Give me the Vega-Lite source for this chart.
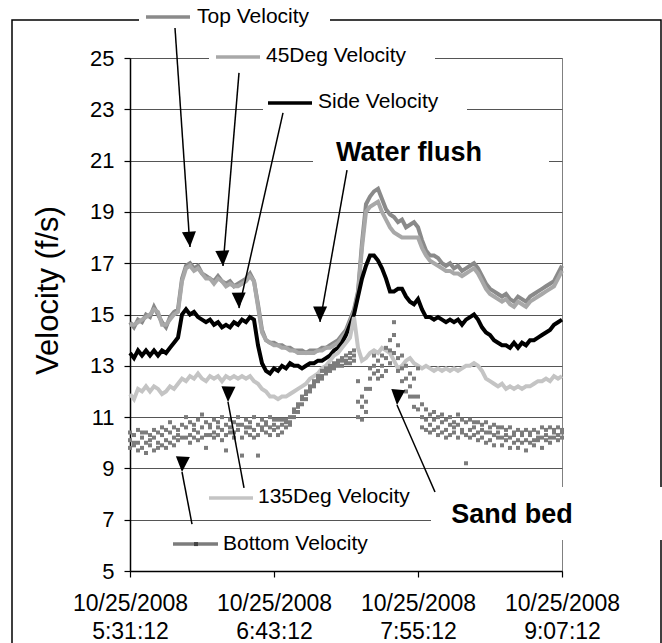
{
"$schema": "https://vega.github.io/schema/vega-lite/v6.json",
"autosize": {"type": "none"},
"width": 432,
"height": 513,
"padding": {"left": 130, "top": 58, "right": 100, "bottom": 72},
"background": "white",
"config": {"font": "Liberation Sans", "view": {"stroke": "#808080", "strokeWidth": 1}},
"datasets": {
"v": [
{"t":"2008-10-25T05:31:12","top":14.7,"d45":14.6,"side":13.5,"d135":11.9,"b1":10.1,"b2":9.8,"b3":10.4},
{"t":"2008-10-25T05:33:12","top":14.5,"d45":14.6,"side":13.3,"d135":11.7,"b1":10.3,"b2":9.9,"b3":10.0},
{"t":"2008-10-25T05:35:12","top":14.8,"d45":14.7,"side":13.6,"d135":12.1,"b1":10.0,"b2":10.5,"b3":9.7},
{"t":"2008-10-25T05:37:12","top":14.7,"d45":14.8,"side":13.4,"d135":12.0,"b1":10.2,"b2":9.8,"b3":10.4},
{"t":"2008-10-25T05:39:12","top":15.0,"d45":14.9,"side":13.6,"d135":12.2,"b1":10.4,"b2":10.0,"b3":9.6},
{"t":"2008-10-25T05:41:12","top":14.9,"d45":15.0,"side":13.4,"d135":12.0,"b1":9.9,"b2":10.3,"b3":10.1},
{"t":"2008-10-25T05:43:12","top":15.3,"d45":15.2,"side":13.6,"d135":12.2,"b1":10.2,"b2":9.7,"b3":10.5},
{"t":"2008-10-25T05:45:12","top":15.0,"d45":15.1,"side":13.4,"d135":12.1,"b1":10.0,"b2":10.4,"b3":9.8},
{"t":"2008-10-25T05:47:12","top":14.7,"d45":14.6,"side":13.6,"d135":11.9,"b1":10.3,"b2":9.9,"b3":10.6},
{"t":"2008-10-25T05:49:12","top":14.5,"d45":14.6,"side":13.5,"d135":12.0,"b1":10.1,"b2":10.5,"b3":9.8},
{"t":"2008-10-25T05:51:12","top":14.9,"d45":14.8,"side":13.7,"d135":12.2,"b1":10.4,"b2":10.0,"b3":10.8},
{"t":"2008-10-25T05:53:12","top":15.1,"d45":15.0,"side":13.9,"d135":12.1,"b1":10.2,"b2":10.6,"b3":9.9},
{"t":"2008-10-25T05:55:12","top":15.2,"d45":15.1,"side":14.1,"d135":12.3,"b1":10.5,"b2":10.1,"b3":10.3},
{"t":"2008-10-25T05:57:12","top":16.4,"d45":16.3,"side":15.0,"d135":12.5,"b1":10.2,"b2":9.3,"b3":10.7},
{"t":"2008-10-25T05:59:12","top":16.9,"d45":16.8,"side":15.2,"d135":12.4,"b1":10.6,"b2":10.2,"b3":11.0},
{"t":"2008-10-25T06:01:12","top":17.0,"d45":16.9,"side":15.0,"d135":12.6,"b1":10.3,"b2":10.8,"b3":10.0},
{"t":"2008-10-25T06:03:12","top":16.8,"d45":16.7,"side":15.1,"d135":12.5,"b1":10.7,"b2":10.2,"b3":10.5},
{"t":"2008-10-25T06:05:12","top":16.9,"d45":16.8,"side":14.9,"d135":12.7,"b1":10.4,"b2":10.9,"b3":10.1},
{"t":"2008-10-25T06:07:12","top":16.6,"d45":16.6,"side":14.8,"d135":12.5,"b1":10.6,"b2":10.2,"b3":11.1},
{"t":"2008-10-25T06:09:12","top":16.5,"d45":16.4,"side":14.7,"d135":12.4,"b1":10.3,"b2":10.8,"b3":9.8},
{"t":"2008-10-25T06:11:12","top":16.4,"d45":16.4,"side":14.8,"d135":12.6,"b1":10.7,"b2":10.3,"b3":10.6},
{"t":"2008-10-25T06:13:12","top":16.3,"d45":16.2,"side":14.6,"d135":12.5,"b1":10.4,"b2":10.9,"b3":10.2},
{"t":"2008-10-25T06:15:12","top":16.5,"d45":16.4,"side":14.7,"d135":12.6,"b1":10.8,"b2":10.3,"b3":10.6},
{"t":"2008-10-25T06:17:12","top":16.3,"d45":16.3,"side":14.5,"d135":12.4,"b1":10.5,"b2":11.0,"b3":10.1},
{"t":"2008-10-25T06:19:12","top":16.2,"d45":16.1,"side":14.6,"d135":12.6,"b1":10.7,"b2":10.3,"b3":9.7},
{"t":"2008-10-25T06:21:12","top":16.3,"d45":16.2,"side":14.5,"d135":12.5,"b1":10.4,"b2":10.9,"b3":10.6},
{"t":"2008-10-25T06:23:12","top":16.1,"d45":16.1,"side":14.7,"d135":12.6,"b1":10.8,"b2":10.4,"b3":10.2},
{"t":"2008-10-25T06:25:12","top":16.2,"d45":16.1,"side":14.6,"d135":12.5,"b1":10.5,"b2":11.0,"b3":10.7},
{"t":"2008-10-25T06:27:12","top":16.3,"d45":16.2,"side":14.8,"d135":12.6,"b1":10.7,"b2":10.2,"b3":9.5},
{"t":"2008-10-25T06:29:12","top":16.4,"d45":16.3,"side":14.7,"d135":12.5,"b1":10.4,"b2":10.9,"b3":10.6},
{"t":"2008-10-25T06:31:12","top":16.6,"d45":16.5,"side":14.9,"d135":12.6,"b1":10.8,"b2":10.3,"b3":10.6},
{"t":"2008-10-25T06:33:12","top":16.3,"d45":16.3,"side":14.8,"d135":12.4,"b1":10.5,"b2":11.0,"b3":10.2},
{"t":"2008-10-25T06:35:12","top":15.4,"d45":15.3,"side":13.8,"d135":12.3,"b1":10.7,"b2":10.3,"b3":9.5},
{"t":"2008-10-25T06:37:12","top":14.4,"d45":14.3,"side":13.1,"d135":12.1,"b1":10.5,"b2":10.9,"b3":10.6},
{"t":"2008-10-25T06:39:12","top":14.0,"d45":14.0,"side":12.8,"d135":12.0,"b1":10.8,"b2":10.4,"b3":10.7},
{"t":"2008-10-25T06:41:12","top":13.9,"d45":13.9,"side":12.7,"d135":11.8,"b1":10.6,"b2":11.0,"b3":10.3},
{"t":"2008-10-25T06:43:12","top":13.9,"d45":13.8,"side":12.9,"d135":11.8,"b1":10.9,"b2":10.5,"b3":10.7},
{"t":"2008-10-25T06:45:12","top":13.8,"d45":13.8,"side":12.8,"d135":11.7,"b1":10.6,"b2":10.9,"b3":10.3},
{"t":"2008-10-25T06:47:12","top":13.8,"d45":13.7,"side":13.0,"d135":11.8,"b1":10.9,"b2":10.4,"b3":10.7},
{"t":"2008-10-25T06:49:12","top":13.7,"d45":13.7,"side":12.9,"d135":11.8,"b1":10.6,"b2":10.9,"b3":10.8},
{"t":"2008-10-25T06:51:12","top":13.7,"d45":13.6,"side":13.1,"d135":11.9,"b1":11.0,"b2":10.7,"b3":10.8},
{"t":"2008-10-25T06:53:12","top":13.6,"d45":13.6,"side":13.0,"d135":12.0,"b1":11.2,"b2":11.0,"b3":11.3},
{"t":"2008-10-25T06:55:12","top":13.6,"d45":13.5,"side":13.0,"d135":12.1,"b1":11.4,"b2":11.2,"b3":11.5},
{"t":"2008-10-25T06:57:12","top":13.6,"d45":13.5,"side":12.9,"d135":12.2,"b1":11.7,"b2":11.5,"b3":11.8},
{"t":"2008-10-25T06:59:12","top":13.5,"d45":13.5,"side":13.0,"d135":12.3,"b1":11.9,"b2":11.7,"b3":12.0},
{"t":"2008-10-25T07:01:12","top":13.6,"d45":13.5,"side":13.1,"d135":12.5,"b1":12.1,"b2":12.0,"b3":12.2},
{"t":"2008-10-25T07:03:12","top":13.6,"d45":13.5,"side":13.1,"d135":12.6,"b1":12.3,"b2":12.2,"b3":12.4},
{"t":"2008-10-25T07:05:12","top":13.6,"d45":13.6,"side":13.2,"d135":12.7,"b1":12.5,"b2":12.4,"b3":12.6},
{"t":"2008-10-25T07:07:12","top":13.7,"d45":13.6,"side":13.2,"d135":12.9,"b1":12.6,"b2":12.5,"b3":12.8},
{"t":"2008-10-25T07:09:12","top":13.7,"d45":13.7,"side":13.3,"d135":13.0,"b1":12.8,"b2":12.7,"b3":12.9},
{"t":"2008-10-25T07:11:12","top":13.8,"d45":13.7,"side":13.4,"d135":13.2,"b1":12.9,"b2":12.8,"b3":13.0},
{"t":"2008-10-25T07:13:12","top":13.9,"d45":13.8,"side":13.6,"d135":13.4,"b1":13.0,"b2":12.9,"b3":13.1},
{"t":"2008-10-25T07:15:12","top":14.0,"d45":13.9,"side":13.7,"d135":13.5,"b1":13.1,"b2":13.0,"b3":13.2},
{"t":"2008-10-25T07:17:12","top":14.2,"d45":14.1,"side":13.9,"d135":13.7,"b1":13.2,"b2":13.0,"b3":13.3},
{"t":"2008-10-25T07:19:12","top":14.4,"d45":14.3,"side":14.2,"d135":13.9,"b1":13.2,"b2":13.1,"b3":13.4},
{"t":"2008-10-25T07:21:12","top":14.8,"d45":14.7,"side":14.6,"d135":14.1,"b1":13.3,"b2":13.1,"b3":13.5},
{"t":"2008-10-25T07:23:12","top":15.2,"d45":15.1,"side":15.0,"d135":14.9,"b1":13.4,"b2":13.2,"b3":13.6},
{"t":"2008-10-25T07:25:12","top":15.9,"d45":15.8,"side":15.7,"d135":13.7,"b1":11.6,"b2":12.4,"b3":11.0},
{"t":"2008-10-25T07:27:12","top":17.8,"d45":17.6,"side":16.4,"d135":13.2,"b1":10.9,"b2":11.4,"b3":11.8},
{"t":"2008-10-25T07:29:12","top":19.3,"d45":19.0,"side":16.9,"d135":13.3,"b1":11.6,"b2":12.1,"b3":11.2},
{"t":"2008-10-25T07:31:12","top":19.6,"d45":19.2,"side":17.3,"d135":13.5,"b1":12.5,"b2":12.9,"b3":12.1},
{"t":"2008-10-25T07:33:12","top":19.8,"d45":19.3,"side":17.3,"d135":13.6,"b1":13.0,"b2":12.7,"b3":13.4},
{"t":"2008-10-25T07:35:12","top":19.9,"d45":19.4,"side":17.1,"d135":13.5,"b1":12.8,"b2":13.2,"b3":12.5},
{"t":"2008-10-25T07:37:12","top":19.5,"d45":19.0,"side":16.8,"d135":13.7,"b1":13.0,"b2":13.4,"b3":12.6},
{"t":"2008-10-25T07:39:12","top":19.1,"d45":18.7,"side":16.4,"d135":13.6,"b1":13.3,"b2":12.8,"b3":13.7},
{"t":"2008-10-25T07:41:12","top":18.9,"d45":18.4,"side":15.9,"d135":13.5,"b1":13.6,"b2":13.1,"b3":14.0},
{"t":"2008-10-25T07:43:12","top":18.8,"d45":18.2,"side":15.9,"d135":13.2,"b1":14.2,"b2":13.5,"b3":14.7},
{"t":"2008-10-25T07:45:12","top":18.6,"d45":18.1,"side":16.0,"d135":12.9,"b1":13.3,"b2":13.8,"b3":12.8},
{"t":"2008-10-25T07:47:12","top":18.7,"d45":18.0,"side":16.0,"d135":13.0,"b1":12.9,"b2":13.4,"b3":12.4},
{"t":"2008-10-25T07:49:12","top":18.4,"d45":18.0,"side":15.7,"d135":13.2,"b1":12.5,"b2":13.0,"b3":12.0},
{"t":"2008-10-25T07:51:12","top":18.5,"d45":18.0,"side":15.5,"d135":13.3,"b1":12.2,"b2":12.7,"b3":11.8},
{"t":"2008-10-25T07:53:12","top":18.6,"d45":18.0,"side":15.4,"d135":13.1,"b1":11.8,"b2":12.5,"b3":11.4},
{"t":"2008-10-25T07:55:12","top":18.4,"d45":18.0,"side":15.6,"d135":13.0,"b1":11.3,"b2":12.9,"b3":11.8},
{"t":"2008-10-25T07:57:12","top":17.9,"d45":17.6,"side":15.2,"d135":12.9,"b1":11.0,"b2":11.5,"b3":10.6},
{"t":"2008-10-25T07:59:12","top":17.5,"d45":17.3,"side":14.9,"d135":13.0,"b1":10.9,"b2":10.5,"b3":11.3},
{"t":"2008-10-25T08:01:12","top":17.3,"d45":17.1,"side":14.9,"d135":12.9,"b1":10.7,"b2":11.1,"b3":10.4},
{"t":"2008-10-25T08:03:12","top":17.3,"d45":17.0,"side":14.8,"d135":12.8,"b1":10.9,"b2":10.5,"b3":11.2},
{"t":"2008-10-25T08:05:12","top":17.2,"d45":16.9,"side":14.9,"d135":12.9,"b1":10.6,"b2":11.0,"b3":10.3},
{"t":"2008-10-25T08:07:12","top":17.0,"d45":16.8,"side":14.8,"d135":12.8,"b1":10.8,"b2":10.4,"b3":11.1},
{"t":"2008-10-25T08:09:12","top":16.9,"d45":16.7,"side":14.7,"d135":12.9,"b1":10.5,"b2":10.9,"b3":10.2},
{"t":"2008-10-25T08:11:12","top":17.0,"d45":16.7,"side":14.8,"d135":12.8,"b1":10.7,"b2":10.3,"b3":11.0},
{"t":"2008-10-25T08:13:12","top":16.8,"d45":16.6,"side":14.7,"d135":12.9,"b1":10.4,"b2":10.8,"b3":10.6},
{"t":"2008-10-25T08:15:12","top":16.9,"d45":16.6,"side":14.8,"d135":12.8,"b1":10.7,"b2":10.2,"b3":11.1},
{"t":"2008-10-25T08:17:12","top":16.7,"d45":16.5,"side":14.6,"d135":12.9,"b1":10.4,"b2":10.9,"b3":10.5},
{"t":"2008-10-25T08:19:12","top":16.8,"d45":16.6,"side":14.8,"d135":13.0,"b1":10.8,"b2":10.3,"b3":9.2},
{"t":"2008-10-25T08:21:12","top":16.9,"d45":16.7,"side":14.9,"d135":13.0,"b1":10.5,"b2":10.9,"b3":10.2},
{"t":"2008-10-25T08:23:12","top":17.0,"d45":16.8,"side":15.0,"d135":13.1,"b1":10.8,"b2":10.3,"b3":10.6},
{"t":"2008-10-25T08:25:12","top":16.8,"d45":16.6,"side":14.8,"d135":13.0,"b1":10.4,"b2":10.8,"b3":10.1},
{"t":"2008-10-25T08:27:12","top":16.5,"d45":16.3,"side":14.5,"d135":12.8,"b1":10.7,"b2":10.2,"b3":10.5},
{"t":"2008-10-25T08:29:12","top":16.2,"d45":16.0,"side":14.3,"d135":12.5,"b1":10.4,"b2":10.8,"b3":10.0},
{"t":"2008-10-25T08:31:12","top":16.0,"d45":15.8,"side":14.2,"d135":12.4,"b1":10.6,"b2":10.1,"b3":10.4},
{"t":"2008-10-25T08:33:12","top":15.9,"d45":15.7,"side":14.0,"d135":12.3,"b1":10.3,"b2":10.7,"b3":9.9},
{"t":"2008-10-25T08:35:12","top":15.8,"d45":15.6,"side":13.9,"d135":12.2,"b1":10.6,"b2":10.2,"b3":10.4},
{"t":"2008-10-25T08:37:12","top":15.7,"d45":15.5,"side":13.8,"d135":12.3,"b1":10.2,"b2":10.6,"b3":9.9},
{"t":"2008-10-25T08:39:12","top":15.8,"d45":15.6,"side":13.8,"d135":12.1,"b1":10.5,"b2":10.1,"b3":10.3},
{"t":"2008-10-25T08:41:12","top":15.6,"d45":15.4,"side":13.7,"d135":12.2,"b1":10.2,"b2":10.6,"b3":9.8},
{"t":"2008-10-25T08:43:12","top":15.5,"d45":15.3,"side":13.9,"d135":12.1,"b1":10.4,"b2":10.0,"b3":10.3},
{"t":"2008-10-25T08:45:12","top":15.7,"d45":15.5,"side":13.7,"d135":12.2,"b1":10.1,"b2":10.5,"b3":9.8},
{"t":"2008-10-25T08:47:12","top":15.6,"d45":15.4,"side":13.9,"d135":12.1,"b1":10.4,"b2":10.0,"b3":10.3},
{"t":"2008-10-25T08:49:12","top":15.5,"d45":15.3,"side":13.8,"d135":12.2,"b1":10.1,"b2":10.5,"b3":9.7},
{"t":"2008-10-25T08:51:12","top":15.7,"d45":15.5,"side":14.0,"d135":12.2,"b1":10.4,"b2":10.0,"b3":10.3},
{"t":"2008-10-25T08:53:12","top":15.8,"d45":15.6,"side":14.0,"d135":12.3,"b1":10.1,"b2":10.5,"b3":9.9},
{"t":"2008-10-25T08:55:12","top":15.9,"d45":15.7,"side":14.1,"d135":12.4,"b1":10.4,"b2":10.1,"b3":10.2},
{"t":"2008-10-25T08:57:12","top":16.0,"d45":15.8,"side":14.2,"d135":12.4,"b1":10.2,"b2":10.6,"b3":9.8},
{"t":"2008-10-25T08:59:12","top":16.1,"d45":15.9,"side":14.3,"d135":12.5,"b1":10.5,"b2":10.1,"b3":10.3},
{"t":"2008-10-25T09:01:12","top":16.2,"d45":16.0,"side":14.4,"d135":12.4,"b1":10.2,"b2":10.6,"b3":10.0},
{"t":"2008-10-25T09:03:12","top":16.3,"d45":16.1,"side":14.6,"d135":12.6,"b1":10.5,"b2":10.2,"b3":10.4},
{"t":"2008-10-25T09:05:12","top":16.6,"d45":16.4,"side":14.7,"d135":12.5,"b1":10.3,"b2":10.6,"b3":10.1},
{"t":"2008-10-25T09:07:12","top":16.9,"d45":16.7,"side":14.8,"d135":12.6,"b1":10.4,"b2":10.2,"b3":10.5}
],
"boxes": [
{"t":"2008-10-25T05:35:42","t2":"2008-10-25T07:11:12","val":27.03,"val2":26.09},
{"t":"2008-10-25T06:10:42","t2":"2008-10-25T08:03:42","val":25.5,"val2":24.53},
{"t":"2008-10-25T06:37:42","t2":"2008-10-25T08:19:42","val":23.67,"val2":22.66},
{"t":"2008-10-25T07:02:42","t2":"2008-10-25T09:00:42","val":21.88,"val2":20.63},
{"t":"2008-10-25T08:01:42","t2":"2008-10-25T10:01:12","val":8.27,"val2":6.21}
],
"swatches": [
{"s":"top","t":"2008-10-25T05:39:12","t2":"2008-10-25T06:01:12","val":26.6},
{"s":"d45","t":"2008-10-25T06:14:12","t2":"2008-10-25T06:36:12","val":25.04},
{"s":"side","t":"2008-10-25T06:40:12","t2":"2008-10-25T07:02:12","val":23.25},
{"s":"d135","t":"2008-10-25T06:10:42","t2":"2008-10-25T06:32:42","val":7.85},
{"s":"bottom","t":"2008-10-25T05:52:42","t2":"2008-10-25T06:15:12","val":6.05}
],
"arrows": [
{"id":"top","t":"2008-10-25T05:53:42","val":26.17,"t2":"2008-10-25T06:01:12","val2":17.63},
{"id":"d45","t":"2008-10-25T06:25:42","val":24.42,"t2":"2008-10-25T06:17:42","val2":16.89},
{"id":"side","t":"2008-10-25T06:47:42","val":22.86,"t2":"2008-10-25T06:25:42","val2":15.25},
{"id":"water","t":"2008-10-25T07:19:42","val":20.63,"t2":"2008-10-25T07:06:12","val2":14.71},
{"id":"d135","t":"2008-10-25T06:28:12","val":8.24,"t2":"2008-10-25T06:20:12","val2":11.59},
{"id":"bottom","t":"2008-10-25T06:02:12","val":6.83,"t2":"2008-10-25T05:57:12","val2":8.86},
{"id":"sand","t":"2008-10-25T08:03:42","val":8.08,"t2":"2008-10-25T07:44:42","val2":11.47}
],
"labels": [
{"txt":"Top Velocity","t":"2008-10-25T06:04:42","val":26.61},
{"txt":"45Deg Velocity","t":"2008-10-25T06:39:12","val":25.08},
{"txt":"Side Velocity","t":"2008-10-25T07:05:12","val":23.3},
{"txt":"135Deg Velocity","t":"2008-10-25T06:35:12","val":7.9},
{"txt":"Bottom Velocity","t":"2008-10-25T06:17:42","val":6.05}
],
"callouts": [
{"txt":"Water flush","t":"2008-10-25T07:50:42","val":21.3},
{"txt":"Sand bed","t":"2008-10-25T08:42:12","val":7.18}
]
},
"encoding": {
"x": {"field":"t","type":"temporal",
 "scale":{"domain":[{"year":2008,"month":10,"date":25,"hours":5,"minutes":31,"seconds":12},{"year":2008,"month":10,"date":25,"hours":9,"minutes":7,"seconds":12}],"nice":false},
 "axis":{"title":null,"grid":false,
  "values":[{"year":2008,"month":10,"date":25,"hours":5,"minutes":31,"seconds":12},{"year":2008,"month":10,"date":25,"hours":6,"minutes":43,"seconds":12},{"year":2008,"month":10,"date":25,"hours":7,"minutes":55,"seconds":12},{"year":2008,"month":10,"date":25,"hours":9,"minutes":7,"seconds":12}],
  "labelExpr":"[timeFormat(datum.value, '%m/%d/%Y'), timeFormat(datum.value, '%-H:%M:%S')]",
  "labelFontSize":23,"labelLineHeight":28,"labelBaseline":"top","labelPadding":15,"labelColor":"#000","labelFlush":false,"labelOverlap":false,
  "domainColor":"#000","domainWidth":1.5,"tickColor":"#000","tickSize":6,"tickWidth":1.2}},
"y": {"field":"val","type":"quantitative",
 "scale":{"domain":[5,25],"nice":false,"zero":false},
 "axis":{"values":[5,7,9,11,13,15,17,19,21,23,25],"grid":true,"gridColor":"#555","gridWidth":1,
  "labelFontSize":22,"labelPadding":10,"labelColor":"#000",
  "domainColor":"#000","domainWidth":1.5,"tickColor":"#000","tickSize":6,"tickWidth":1.2,
  "title":"Velocity (f/s)","titleFontSize":31,"titleFontWeight":"normal","titleColor":"#000","titleX":-82,"titleY":232,"titleAngle":-90,"titleAlign":"center","titleBaseline":"middle"}}
},
"layer": [
{"data":{"values":[{"t":"2008-10-25T04:32:12","t2":"2008-10-25T09:56:42","val":26.48,"val2":1}]},
 "mark":{"type":"rect","filled":false,"stroke":"#000","strokeWidth":1.5},
 "encoding":{"x2":{"field":"t2"},"y2":{"field":"val2"}}},
{"data":{"name":"boxes"},
 "mark":{"type":"rect","fill":"white","stroke":null},
 "encoding":{"x2":{"field":"t2"},"y2":{"field":"val2"}}},
{"data":{"name":"v"},
 "transform":[{"fold":["top","d45","side","d135"],"as":["s","val"]}],
 "mark":{"type":"line","strokeWidth":4},
 "encoding":{"color":{"field":"s","type":"nominal","legend":null,"scale":{"domain":["top","d45","side","d135","bottom"],"range":["#8a8a8a","#a8a8a8","#000000","#c4c4c4","#7c7c7c"]}}}},
{"data":{"name":"v"},
 "transform":[{"fold":["b1","b2","b3"],"as":["k","val"]}],
 "mark":{"type":"point","shape":"square","filled":true,"size":16,"color":"#7c7c7c","opacity":1},
 "encoding":{}},
{"data":{"name":"swatches"},
 "mark":{"type":"rule","strokeWidth":3.5},
 "encoding":{"x2":{"field":"t2"},"color":{"field":"s","type":"nominal","legend":null}}},
{"data":{"values":[{"t":"2008-10-25T06:04:12","val":6.05}]},
 "mark":{"type":"point","shape":"square","filled":true,"size":16,"color":"#444","opacity":1},
 "encoding":{}},
{"data":{"name":"arrows"},
 "mark":{"type":"rule","color":"#000","strokeWidth":1.5},
 "encoding":{"x2":{"field":"t2"},"y2":{"field":"val2"}}},
{"data":{"name":"arrows"},
 "mark":{"type":"point","shape":"M0,0L-1,2.2L1,2.2Z","filled":true,"size":196,"color":"#000","opacity":1},
 "encoding":{"x":{"field":"t2","type":"temporal"},"y":{"field":"val2","type":"quantitative"},
  "angle":{"field":"id","type":"nominal","legend":null,"scale":{"domain":["top","d45","side","water","d135","bottom","sand"],"range":[176,184.7,192.7,190.1,349.5,349,336.4]}}}},
{"data":{"name":"labels"},
 "mark":{"type":"text","align":"left","baseline":"middle","fontSize":21,"color":"#000"},
 "encoding":{"text":{"field":"txt"}}},
{"data":{"name":"callouts"},
 "mark":{"type":"text","align":"center","baseline":"middle","fontSize":27,"fontWeight":"bold","color":"#000"},
 "encoding":{"text":{"field":"txt"}}}
]
}
